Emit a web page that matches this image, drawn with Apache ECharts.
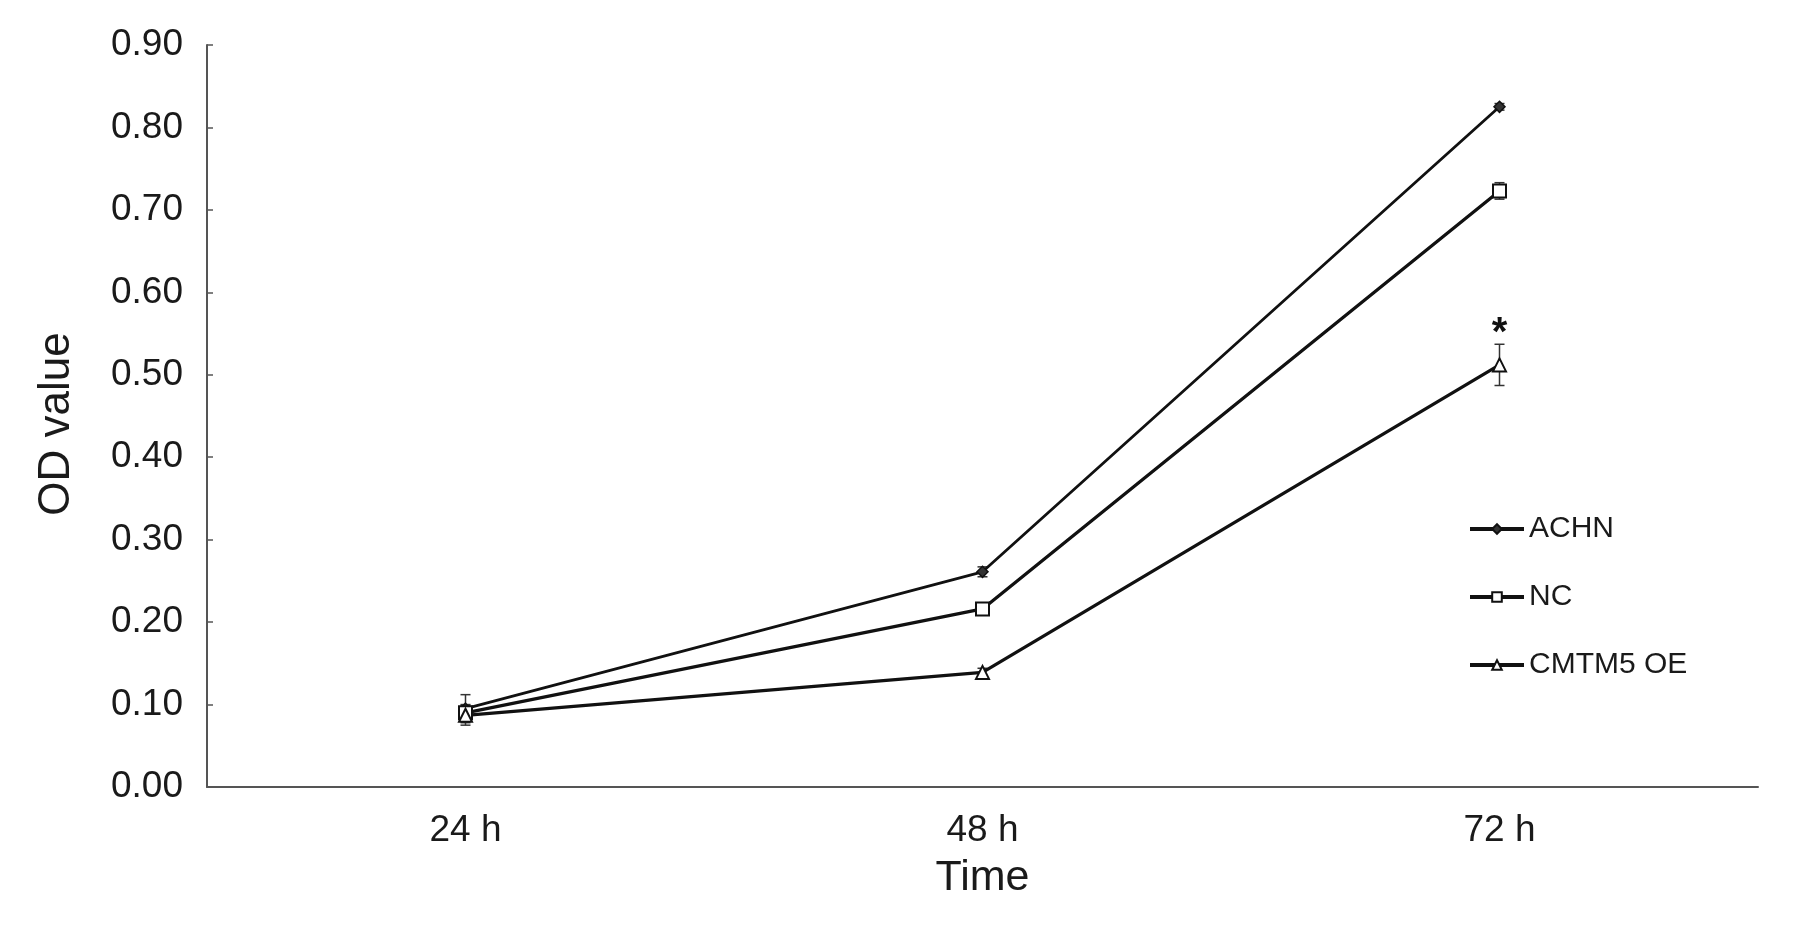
<!DOCTYPE html>
<html>
<head>
<meta charset="utf-8">
<script src="https://cdn.jsdelivr.net/npm/echarts@6/dist/echarts.min.js"></script>
<style>
html,body{margin:0;padding:0;background:#fff;}
#chart{width:1795px;height:926px;}
</style>
</head>
<body>
<div id="chart"></div>
<script>
const categories = ['24 h', '48 h', '72 h'];
const achnValues = [0.095, 0.261, 0.825];
const achnErrors = [0.017, 0.006, 0.004];
const ncValues = [0.090, 0.216, 0.723];
const ncErrors = [0.010, 0.006, 0.010];
const oeValues = [0.087, 0.139, 0.512];
const oeErrors = [0.012, 0.005, 0.025];
const yTicks = [0, 0.1, 0.2, 0.3, 0.4, 0.5, 0.6, 0.7, 0.8, 0.9];
const starLabelIndex = 2;

const FONT = '"Liberation Sans", Arial, sans-serif';
const INK = '#1a1a1a';

function errSeries(values, errors) {
  const data = values.map((v, i) => [i, v - errors[i], v + errors[i]]);
  return {
    type: 'custom',
    silent: true,
    z: 1,
    data: data,
    renderItem: function (params, api) {
      const x = api.value(0);
      const lo = api.coord([x, api.value(1)]);
      const hi = api.coord([x, api.value(2)]);
      const cap = 5;
      const style = { stroke: '#333', lineWidth: 1.5 };
      return {
        type: 'group',
        children: [
          { type: 'line', shape: { x1: lo[0], y1: lo[1], x2: hi[0], y2: hi[1] }, style: style },
          { type: 'line', shape: { x1: lo[0] - cap, y1: lo[1], x2: lo[0] + cap, y2: lo[1] }, style: style },
          { type: 'line', shape: { x1: hi[0] - cap, y1: hi[1], x2: hi[0] + cap, y2: hi[1] }, style: style }
        ]
      };
    }
  };
}

const chart = echarts.init(document.getElementById('chart'));
chart.setOption({
  animation: false,
  backgroundColor: '#fff',
  textStyle: { fontFamily: FONT },
  grid: { left: 207, right: 37, top: 45, bottom: 139 },
  legend: {
    orient: 'vertical',
    left: 1463,
    top: 509,
    itemWidth: 54,
    itemHeight: 12,
    itemGap: 38,
    lineStyle: { width: 4, color: '#111' },
    textStyle: { fontFamily: FONT, fontSize: 30, color: INK, padding: [0, 0, 0, 0] },
    data: ['ACHN', 'NC', 'CMTM5 OE']
  },
  xAxis: {
    type: 'category',
    data: categories,
    boundaryGap: true,
    axisLine: { lineStyle: { color: '#555', width: 2 } },
    axisTick: { inside: true, length: 6, lineStyle: { color: '#555', width: 1.5 } },
    axisLabel: { fontFamily: FONT, fontSize: 37, color: INK, margin: 25 },
    name: 'Time',
    nameLocation: 'middle',
    nameGap: 70,
    nameTextStyle: { fontFamily: FONT, fontSize: 43, color: INK }
  },
  yAxis: {
    type: 'value',
    min: yTicks[0],
    max: yTicks[yTicks.length - 1],
    interval: 0.1,
    splitLine: { show: false },
    axisLine: { show: true, lineStyle: { color: '#555', width: 2 } },
    axisTick: { show: true, inside: true, length: 6, lineStyle: { color: '#555', width: 1.5 } },
    axisLabel: { fontFamily: FONT, fontSize: 37, color: INK, margin: 24,
      formatter: v => v.toFixed(2) },
    name: 'OD value',
    nameLocation: 'middle',
    nameRotate: 90,
    nameGap: 128,
    nameTextStyle: { fontFamily: FONT, fontSize: 44, color: INK, padding: [0, 16, 0, 0] }
  },
  series: [
    errSeries(achnValues, achnErrors),
    errSeries(ncValues, ncErrors),
    errSeries(oeValues, oeErrors),
    {
      name: 'ACHN', type: 'line', data: achnValues, z: 3,
      symbol: 'diamond', symbolSize: 11, showAllSymbol: true,
      lineStyle: { color: '#111', width: 2.8 },
      itemStyle: { color: '#333', borderColor: '#111', borderWidth: 1.5 }
    },
    {
      name: 'NC', type: 'line', data: ncValues, z: 3,
      symbol: 'rect', symbolSize: 13,
      lineStyle: { color: '#111', width: 3.3 },
      itemStyle: { color: '#fff', borderColor: '#111', borderWidth: 2 }
    },
    {
      name: 'CMTM5 OE', type: 'line', data: oeValues, z: 3,
      symbol: 'triangle', symbolSize: 13,
      lineStyle: { color: '#111', width: 3.3 },
      itemStyle: { color: '#fff', borderColor: '#111', borderWidth: 2 },
      markPoint: {
        symbol: 'circle', symbolSize: 1,
        itemStyle: { color: 'rgba(0,0,0,0)' },
        label: { show: true, formatter: '*', fontFamily: FONT, fontSize: 40, fontWeight: 'bold',
          color: '#111', position: 'inside', offset: [0, 0] },
        data: [{ coord: [starLabelIndex, oeValues[starLabelIndex] + 0.037] }]
      }
    }
  ]
});
</script>
</body>
</html>
